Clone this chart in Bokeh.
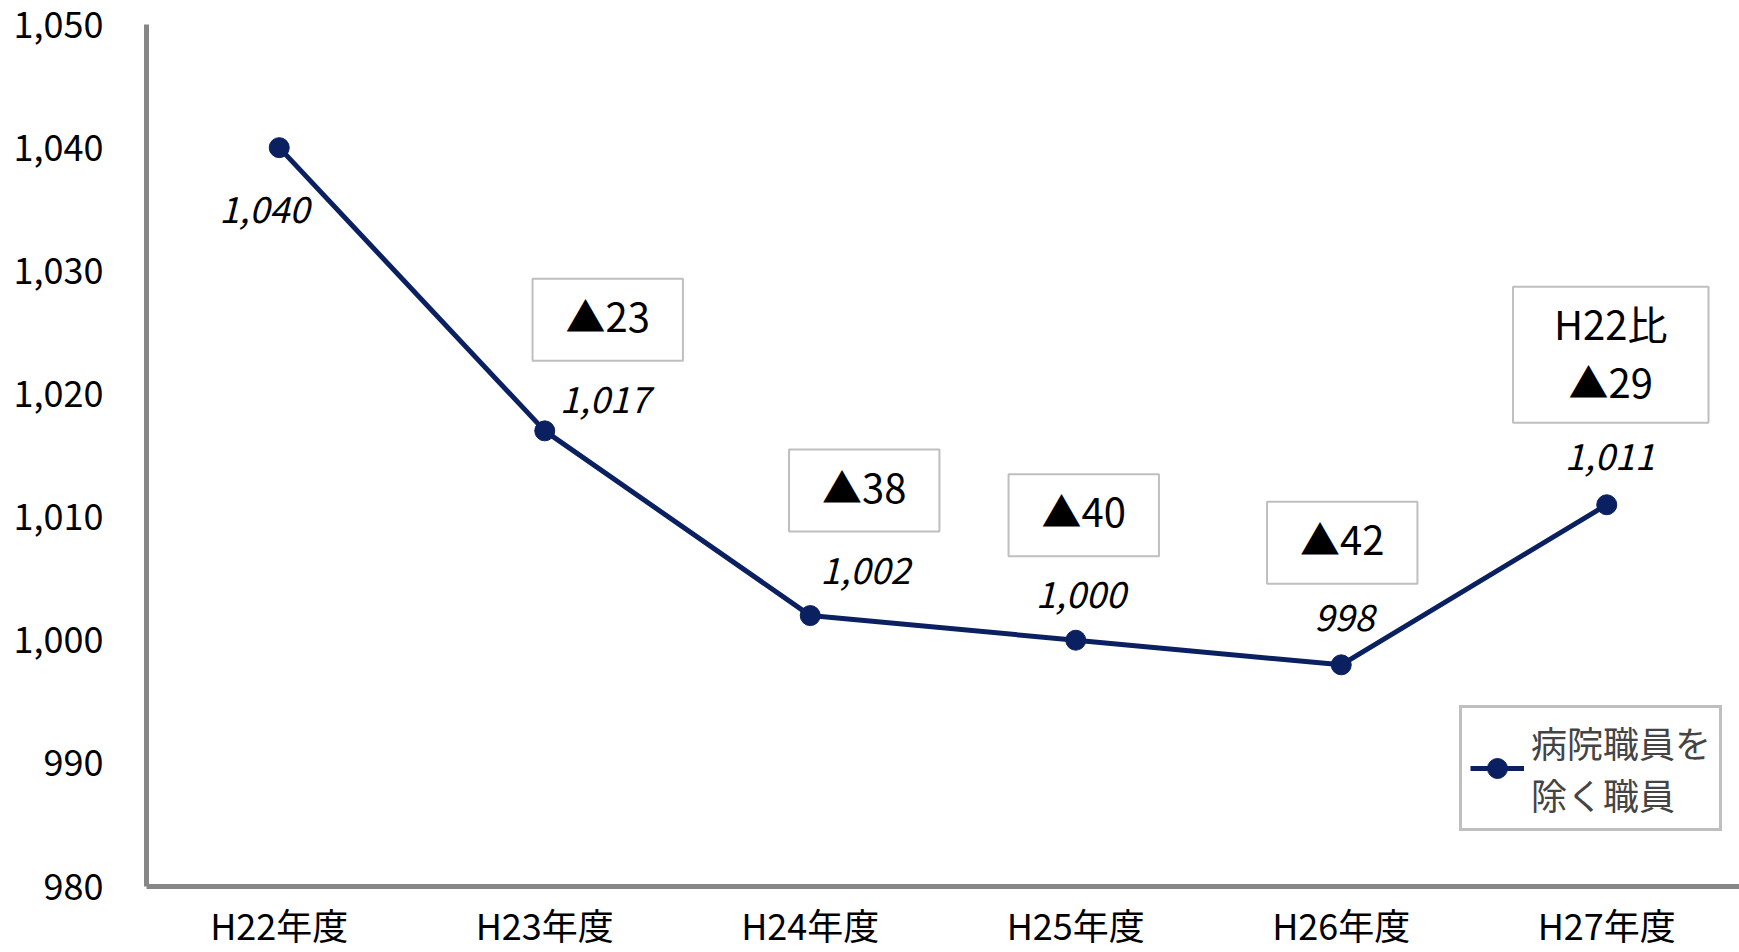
from bokeh.plotting import figure
from bokeh.models import (ColumnDataSource, FactorRange, Range1d, FixedTicker,
                          NumeralTickFormatter, Legend, LegendItem, Label)
from bokeh.core.properties import value
from bokeh.embed import file_html
from bokeh.resources import INLINE

# ---- data ----
years = ["H22年度", "H23年度", "H24年度", "H25年度", "H26年度", "H27年度"]
staff = [1040, 1017, 1002, 1000, 998, 1011]
staff_labels = ["1,040", "1,017", "1,002", "1,000", "998", "1,011"]
diff_years = ["H23年度", "H24年度", "H25年度", "H26年度"]
diff_values = [1017, 1002, 1000, 998]
diff_labels = ["▲23", "▲38", "▲40", "▲42"]
total_year = ["H27年度"]
total_value = [1011]
total_label = ["H22比\n▲29"]
y_ticks = [980, 990, 1000, 1010, 1020, 1030, 1040, 1050]
series_name = "病院職員を\n除く職員"
unit_text = "職員数：人"

# ---- layout / style constants ----
FONT = "Noto Sans CJK JP"
NAVY = "#0a2060"
lbl_dx = [-15, 60, 55, 5, 3, 3]
lbl_dy = [62, -31, -45, -46, -47, -48]
box_dx = [63, 54, 8, 1]
box_dy = [-111, -125, -125, -122]

p = figure(width=1739, height=952, x_range=FactorRange(*years, range_padding=0),
           y_range=Range1d(980, 1050), output_backend="svg", toolbar_location=None,
           min_border_left=146, min_border_right=0, min_border_top=24, min_border_bottom=66)
p.outline_line_color = None
p.xgrid.grid_line_color = None
p.ygrid.grid_line_color = None
p.background_fill_color = "white"
p.border_fill_color = "white"

for ax in (p.xaxis[0], p.yaxis[0]):
    ax.axis_line_color = "#878787"
    ax.axis_line_width = 5
    ax.major_tick_line_color = None
    ax.minor_tick_line_color = None
    ax.major_tick_in = 0
    ax.major_tick_out = 0
    ax.major_label_text_font = FONT
    ax.major_label_text_color = "#000000"
    ax.major_label_text_font_size = "36px"

p.yaxis[0].ticker = FixedTicker(ticks=y_ticks)
p.yaxis[0].formatter = NumeralTickFormatter(format="0,0")
p.yaxis[0].major_label_standoff = 43
p.xaxis[0].major_label_standoff = 11

src = ColumnDataSource(dict(x=years, y=staff, lbl=staff_labels, dx=lbl_dx, dy=lbl_dy))
line_r = p.line("x", "y", source=src, line_color=NAVY, line_width=5)
pt_r = p.scatter("x", "y", source=src, size=20, fill_color=NAVY, line_color=NAVY)

p.text("x", "y", text="lbl", source=src, x_offset="dx", y_offset="dy",
       text_font=value(FONT), text_font_style="italic", text_font_size="36px",
       text_align="center", text_baseline="middle", text_color="black")

bsrc = ColumnDataSource(dict(x=diff_years, y=diff_values, lbl=diff_labels, dx=box_dx, dy=box_dy))
p.text("x", "y", text="lbl", source=bsrc, x_offset="dx", y_offset="dy",
       text_font=value(FONT), text_font_size="40px",
       text_align="center", text_baseline="middle", text_color="black",
       background_fill_color="white", border_line_color="#bfbfbf", border_line_width=2,
       padding=dict(left=33, right=33, top=7, bottom=17))

tsrc = ColumnDataSource(dict(x=total_year, y=total_value, lbl=total_label, dx=[4], dy=[-150]))
p.text("x", "y", text="lbl", source=tsrc, x_offset="dx", y_offset="dy",
       text_font=value(FONT), text_font_size="40px", text_line_height=1.0,
       text_align="center", text_baseline="middle", text_color="black",
       background_fill_color="white", border_line_color="#bfbfbf", border_line_width=2,
       padding=dict(left=41, right=41, top=7, bottom=13))

legend = Legend(items=[LegendItem(label=series_name, renderers=[line_r, pt_r])],
                location=(1313, 55), orientation="vertical")
legend.label_text_font = FONT
legend.label_text_font_size = "36px"
legend.label_text_line_height = 1.07
legend.border_line_color = "#808080"
legend.border_line_width = 3
legend.background_fill_color = "white"
legend.background_fill_alpha = 1
legend.glyph_width = 54
legend.glyph_height = 50
legend.padding = 8
legend.margin = 0
legend.label_standoff = 7
p.add_layout(legend, "center")

p.add_layout(Label(x=1760, y=950, x_units="screen", y_units="screen", text=unit_text,
                   text_align="right", text_baseline="alphabetic", text_font=FONT,
                   text_font_size="30px"))

open("out.html", "w").write(file_html(p, INLINE))
